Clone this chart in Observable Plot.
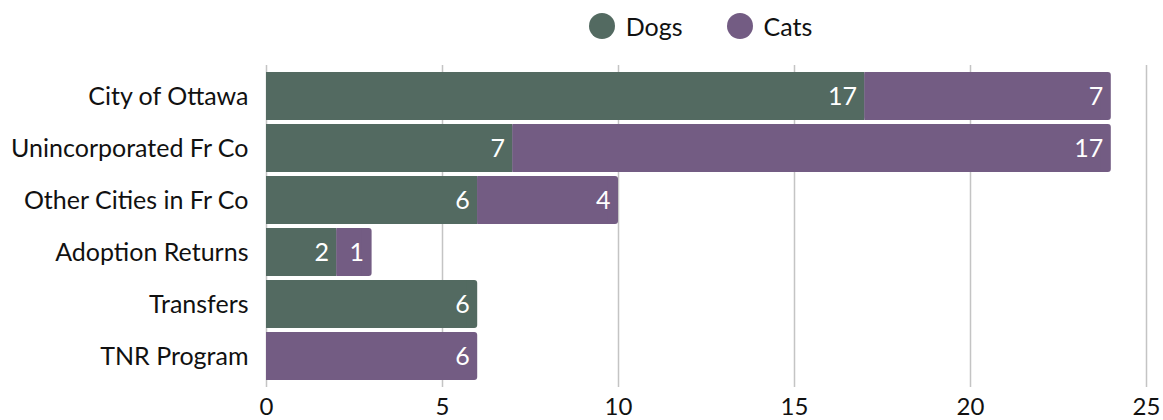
<!DOCTYPE html>
<html>
<head>
<meta charset="utf-8">
<script src="https://cdn.jsdelivr.net/npm/d3@7"></script>
<script src="https://cdn.jsdelivr.net/npm/@observablehq/plot@0.6"></script>
<style>
  html, body { margin: 0; padding: 0; background: #fff; }
  body { width: 1163px; height: 420px; overflow: hidden; font-family: Lato, "Noto Sans", sans-serif; }
  #legend { height: 51px; display: flex; align-items: center; justify-content: center; padding-left: 238px; box-sizing: border-box; font-size: 25px; color: #111; }
  .item { display: flex; align-items: center; margin: 0 22px; }
  .dot { width: 26px; height: 26px; border-radius: 50%; margin-right: 11px; }
  svg { display: block; }
</style>
</head>
<body>
<div id="legend"></div>
<div id="chart"></div>
<script>
const categories = ["City of Ottawa", "Unincorporated Fr Co", "Other Cities in Fr Co", "Adoption Returns", "Transfers", "TNR Program"];
const dogs = [17, 7, 6, 2, 6, 0];
const cats = [7, 17, 4, 1, 0, 6];
const seriesNames = ["Dogs", "Cats"];
const seriesColors = ["#536a61", "#735c83"];
const xTicks = [0, 5, 10, 15, 20, 25];

const rows = [];
categories.forEach((c, i) => {
  const vals = [dogs[i], cats[i]];
  let start = 0;
  const segs = [];
  vals.forEach((v, j) => {
    if (v > 0) {
      segs.push({cat: c, series: seriesNames[j], value: v, start, end: start + v, last: false});
      start += v;
    }
  });
  if (segs.length) segs[segs.length - 1].last = true;
  rows.push(...segs);
});

const legend = document.getElementById("legend");
seriesNames.forEach((s, j) => {
  const it = document.createElement("div");
  it.className = "item";
  it.innerHTML = `<span class="dot" style="background:${seriesColors[j]}"></span><span>${s}</span>`;
  legend.appendChild(it);
});

const chart = Plot.plot({
  width: 1163,
  height: 369,
  marginTop: 14,
  marginBottom: 33,
  marginLeft: 266,
  marginRight: 17,
  style: {fontFamily: "Lato, 'Noto Sans', sans-serif", fontSize: "25px", color: "#111", background: "#fff"},
  x: {domain: [0, 25], ticks: xTicks, grid: true, tickSize: 0, tickPadding: 10, label: null},
  y: {domain: categories, paddingInner: 0.08, paddingOuter: 0.1, tickSize: 0, tickPadding: 18, label: null},
  color: {domain: seriesNames, range: seriesColors},
  marks: [
    Plot.gridX(xTicks, {stroke: "#c4c4c4", strokeOpacity: 1, strokeWidth: 1.5}),
    Plot.barX(rows.filter(d => d.last), {x1: "start", x2: "end", y: "cat", fill: "series", rx: 3}),
    Plot.barX(rows, {x1: "start", x2: d => d.last ? d.end - 0.3 : d.end, y: "cat", fill: "series"}),
    Plot.text(rows, {x: "end", y: "cat", text: "value", textAnchor: "end", dx: -8, fill: "white", fontSize: 25})
  ]
});
chart.querySelectorAll('g[aria-label="x-axis tick label"] text').forEach(t => t.setAttribute("font-size", "24"));
document.getElementById("chart").appendChild(chart);
</script>
</body>
</html>
